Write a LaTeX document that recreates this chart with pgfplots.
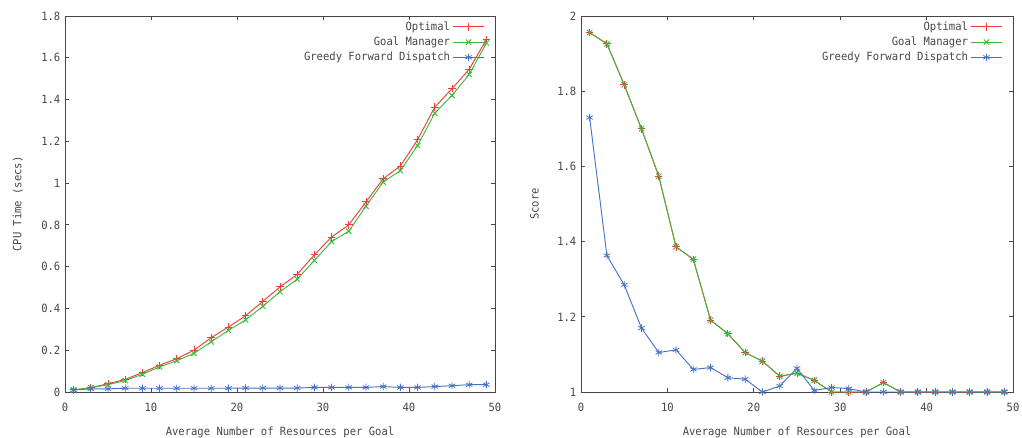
\documentclass[border=0pt]{standalone}
\usepackage{fontspec}
\setmainfont{DejaVu Sans Mono}[FakeStretch=0.93]
\usepackage{pgfplots}
\usepackage{pgfplotstable}
\pgfplotsset{compat=1.18}
\definecolor{gpred}{RGB}{238,60,60}
\definecolor{gpgreen}{RGB}{60,185,60}
\definecolor{gpblue}{RGB}{70,115,200}
\definecolor{gptext}{RGB}{70,70,70}

\pgfplotstableread{
x opt gm greedy
1 0.010 0.010 0.010
3 0.020 0.020 0.015
5 0.040 0.035 0.015
7 0.060 0.055 0.018
9 0.093 0.085 0.018
11 0.128 0.120 0.018
13 0.160 0.150 0.018
15 0.200 0.185 0.018
17 0.260 0.240 0.018
19 0.311 0.295 0.018
21 0.365 0.345 0.019
23 0.434 0.410 0.019
25 0.503 0.480 0.019
27 0.563 0.540 0.019
29 0.657 0.630 0.022
31 0.742 0.720 0.022
33 0.800 0.770 0.022
35 0.910 0.890 0.022
37 1.021 1.005 0.026
39 1.082 1.060 0.022
41 1.208 1.180 0.022
43 1.364 1.335 0.026
45 1.452 1.420 0.030
47 1.545 1.520 0.035
49 1.687 1.670 0.035
}\cputable

\pgfplotstableread{
x opt gm greedy
1 1.956 1.956 1.730
3 1.926 1.926 1.363
5 1.817 1.817 1.285
7 1.700 1.700 1.170
9 1.574 1.574 1.105
11 1.386 1.386 1.112
13 1.353 1.353 1.060
15 1.191 1.191 1.065
17 1.155 1.155 1.038
19 1.105 1.105 1.034
21 1.082 1.082 1.000
23 1.042 1.042 1.016
25 1.050 1.050 1.063
27 1.031 1.031 1.004
29 1.000 1.000 1.012
31 1.000 1.000 1.009
33 1.000 1.000 1.000
35 1.025 1.025 1.000
37 1.000 1.000 1.000
39 1.000 1.000 1.000
41 1.000 1.000 1.000
43 1.000 1.000 1.000
45 1.000 1.000 1.000
47 1.000 1.000 1.000
49 1.000 1.000 1.000
}\scoretable

\pgfplotsset{
  gpstyle/.style={
    scale only axis,
    width=322.5pt, height=282pt,
    xmin=0, xmax=50, xtick={0,10,20,30,40,50},
    axis line style={gptext, line width=0.6pt},
    tick style={gptext, line width=0.6pt},
    major tick length=3pt,
    tick align=inside,
    xtick pos=both, ytick pos=both,
    font=\fontsize{8.5}{10}\selectfont\color{gptext},
    /pgf/number format/assume math mode=true,
    xticklabel style={yshift=-5pt},
    xlabel={Average Number of Resources per Goal},
    legend style={draw=none, fill=none, at={(0.985,1.0)}, anchor=north east,
      legend plot pos=right, legend cell align=right, row sep=-0.6pt,
      font=\fontsize{8.5}{10}\selectfont\color{gptext}},
    legend image code/.code={\draw[mark repeat=2,mark phase=2] plot coordinates {(0pt,0pt) (11.5pt,0pt) (23pt,0pt)};},
    every axis plot/.append style={line width=0.7pt, mark size=2.8pt},
    x label style={yshift=-4pt},
    ylabel style={yshift=7pt},
  },
  optst/.style={gpred, mark=+, mark options={solid, line width=0.7pt}},
  gmst/.style={gpgreen, mark=x, mark options={solid, line width=0.7pt}},
  grst/.style={gpblue, mark=asterisk, mark options={solid, line width=0.6pt}},
}

\begin{document}
\begin{tikzpicture}
\path[use as bounding box] (-48.75pt,-33.75pt) rectangle (717.75pt,294pt);
\begin{axis}[gpstyle, at={(0pt,0pt)}, anchor=south west,
  ymin=0, ymax=1.8, ytick={0,0.2,0.4,0.6,0.8,1,1.2,1.4,1.6,1.8},
  ylabel={CPU Time (secs)}]
\addplot[optst] table[x=x, y=opt] {\cputable};
\addlegendentry{Optimal}
\addplot[gmst] table[x=x, y=gm] {\cputable};
\addlegendentry{Goal Manager}
\addplot[grst] table[x=x, y=greedy] {\cputable};
\addlegendentry{Greedy Forward Dispatch}
\end{axis}
\begin{axis}[gpstyle, at={(387pt,0pt)}, anchor=south west, width=324pt,
  ymin=1, ymax=2, ytick={1,1.2,1.4,1.6,1.8,2},
  ylabel={Score}]
\addplot[optst] table[x=x, y=opt] {\scoretable};
\addlegendentry{Optimal}
\addplot[gmst] table[x=x, y=gm] {\scoretable};
\addlegendentry{Goal Manager}
\addplot[grst] table[x=x, y=greedy] {\scoretable};
\addlegendentry{Greedy Forward Dispatch}
\end{axis}
\end{tikzpicture}
\end{document}
